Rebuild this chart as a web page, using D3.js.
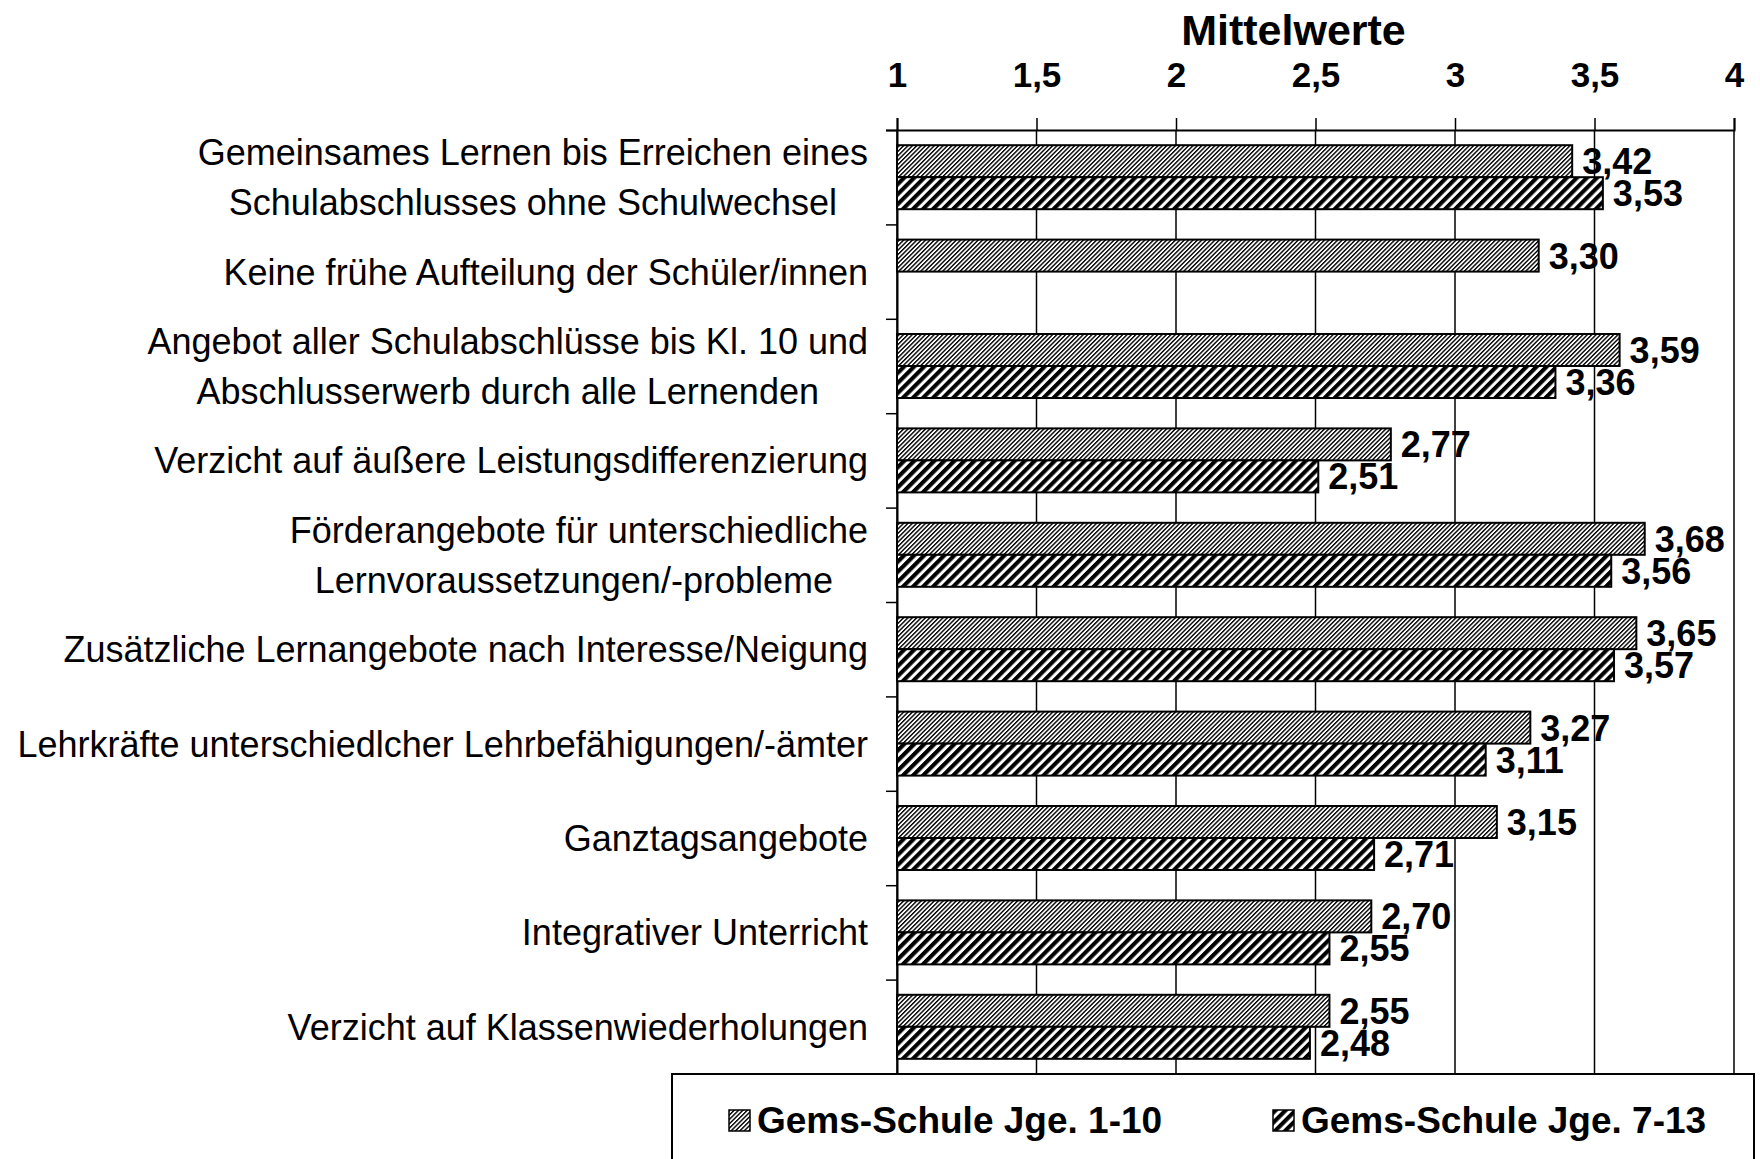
<!DOCTYPE html>
<html>
<head>
<meta charset="utf-8">
<script src="https://cdn.jsdelivr.net/npm/d3@7"></script>
<style>
  body { margin: 0; background: #fff; }
  svg { display: block; font-family: "Liberation Sans", Arial, sans-serif; }
</style>
</head>
<body>
<svg id="chart" width="1760" height="1159"></svg>
<script>
// categories, one entry per line of the label
const categories = [
  ["Gemeinsames Lernen bis Erreichen eines", "Schulabschlusses ohne Schulwechsel"],
  ["Keine frühe Aufteilung der Schüler/innen"],
  ["Angebot aller Schulabschlüsse bis Kl. 10 und", "Abschlusserwerb durch alle Lernenden"],
  ["Verzicht auf äußere Leistungsdifferenzierung"],
  ["Förderangebote für unterschiedliche", "Lernvoraussetzungen/-probleme "],
  ["Zusätzliche Lernangebote nach Interesse/Neigung"],
  ["Lehrkräfte unterschiedlcher Lehrbefähigungen/-ämter"],
  ["Ganztagsangebote"],
  ["Integrativer Unterricht"],
  ["Verzicht auf Klassenwiederholungen"]
];
const seriesNames = ["Gems-Schule Jge. 1-10", "Gems-Schule Jge. 7-13"];
const values1to10 = [3.42, 3.30, 3.59, 2.77, 3.68, 3.65, 3.27, 3.15, 2.70, 2.55];
const values7to13 = [3.53, null, 3.36, 2.51, 3.56, 3.57, 3.11, 2.71, 2.55, 2.48];
const xTicks = [1, 1.5, 2, 2.5, 3, 3.5, 4];
const axisTitle = "Mittelwerte";

const svg = d3.select("#chart");
const plotLeft = 897, plotRight = 1734, plotTop = 130, plotBottom = 1074;
const comma = d => String(d).replace(".", ",");
const fmt2 = d => d.toFixed(2).replace(".", ",");

// hatch patterns
const defs = svg.append("defs");
function hatch(id, size, black) {
  const p = defs.append("pattern")
    .attr("id", id)
    .attr("patternUnits", "userSpaceOnUse")
    .attr("width", size)
    .attr("height", size)
    .attr("patternTransform", "rotate(45)");
  p.append("rect").attr("width", size).attr("height", size).attr("fill", "#fff");
  p.append("rect").attr("width", black).attr("height", size).attr("fill", "#000");
}
hatch("fine", 3.1, 1.4);
hatch("bold", 7.1, 4.1);
const fills = ["url(#fine)", "url(#bold)"];

const x = d3.scaleLinear().domain([1, 4]).range([plotLeft, plotRight]);
const idx = d3.range(categories.length);
const y = d3.scaleBand().domain(idx).range([plotTop, plotBottom])
  .paddingInner(0.322).paddingOuter(0.161);
const ySub = d3.scaleBand().domain([0, 1]).range([0, y.bandwidth()]);
const yEdge = d3.scaleLinear().domain([0, categories.length]).range([plotTop, plotBottom]);

// gridlines
svg.append("g")
  .selectAll("line")
  .data(xTicks)
  .join("line")
  .attr("x1", d => x(d)).attr("x2", d => x(d))
  .attr("y1", plotTop).attr("y2", plotBottom)
  .attr("stroke", "#000")
  .attr("stroke-width", 1.5);

// top axis
const xAxis = svg.append("g")
  .attr("transform", `translate(0,${plotTop})`)
  .call(d3.axisTop(x).tickValues(xTicks).tickFormat(comma).tickSize(12).tickPadding(31));
xAxis.select(".domain").attr("stroke-width", 2);
xAxis.selectAll(".tick line").attr("stroke-width", 1.5);
xAxis.selectAll(".tick text")
  .attr("font-family", "'Liberation Sans', Arial, sans-serif")
  .attr("font-size", 35)
  .attr("font-weight", "bold")
  .attr("fill", "#000");

svg.append("text")
  .attr("x", (plotLeft + plotRight) / 2 - 22)
  .attr("y", 45)
  .attr("text-anchor", "middle")
  .attr("font-size", 43)
  .attr("font-weight", "bold")
  .text(axisTitle);

// left axis with ticks at category boundaries
const yAxis = svg.append("g")
  .attr("transform", `translate(${plotLeft},0)`)
  .call(d3.axisLeft(yEdge).tickValues(d3.range(categories.length + 1)).tickFormat("").tickSize(11));
yAxis.select(".domain").attr("stroke-width", 2);
yAxis.selectAll(".tick line").attr("stroke-width", 1.5);

// bars
const rows = idx.map(i => ({ i, vals: [values1to10[i], values7to13[i]] }));
const groups = svg.append("g")
  .selectAll("g")
  .data(rows)
  .join("g")
  .attr("transform", d => `translate(0,${y(d.i)})`);

const cells = groups.selectAll("g")
  .data(d => d.vals.map((v, s) => ({ v, s })).filter(e => e.v != null))
  .join("g");

cells.append("rect")
  .attr("x", x(1))
  .attr("y", d => ySub(d.s))
  .attr("width", d => x(d.v) - x(1))
  .attr("height", ySub.bandwidth())
  .attr("fill", d => fills[d.s])
  .attr("stroke", "#000")
  .attr("stroke-width", 2);

cells.append("text")
  .attr("x", d => x(d.v) + 10)
  .attr("y", d => ySub(d.s) + ySub.bandwidth() / 2 + 13)
  .attr("font-size", 36)
  .attr("font-weight", "bold")
  .text(d => fmt2(d.v));

// category labels: block right-aligned, lines centered within block
const labelRight = 868;
const lineH = 50;
const labels = svg.append("g")
  .selectAll("text")
  .data(idx)
  .join("text")
  .attr("font-size", 36)
  .attr("text-anchor", "middle")
  .style("white-space", "pre");
labels.each(function(i) {
  const t = d3.select(this);
  const lines = categories[i];
  const cy = yEdge(i + 0.5);
  t.selectAll("tspan")
    .data(lines)
    .join("tspan")
    .attr("y", (d, k) => cy + 13 + (k - (lines.length - 1) / 2) * lineH)
    .text(d => d);
  let w = 0;
  t.selectAll("tspan").each(function() { w = Math.max(w, this.getComputedTextLength()); });
  t.selectAll("tspan").attr("x", labelRight - w / 2);
});

// legend
const legend = svg.append("g");
legend.append("rect")
  .attr("x", 672).attr("y", 1074)
  .attr("width", 1082).attr("height", 120)
  .attr("fill", "#fff")
  .attr("stroke", "#000")
  .attr("stroke-width", 2);
const legendX = [729, 1273];
const items = legend.selectAll("g.item")
  .data(seriesNames)
  .join("g")
  .attr("class", "item")
  .attr("transform", (d, i) => `translate(${legendX[i]},1110)`);
items.append("rect")
  .attr("width", 21).attr("height", 21)
  .attr("fill", (d, i) => fills[i])
  .attr("stroke", "#000")
  .attr("stroke-width", 1.5);
items.append("text")
  .attr("x", 28)
  .attr("y", 23)
  .attr("font-size", 37)
  .attr("font-weight", "bold")
  .text(d => d);
</script>
</body>
</html>
